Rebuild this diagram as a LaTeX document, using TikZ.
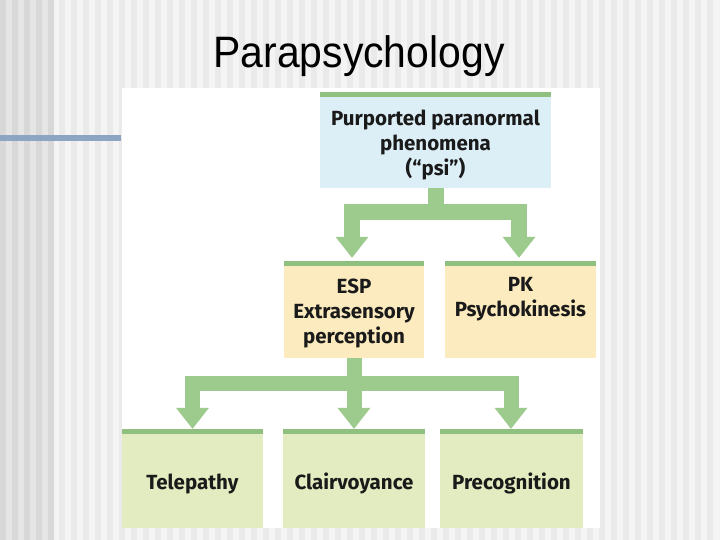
\documentclass[tikz,border=0pt]{standalone}
\usepackage{fontspec}
\setmainfont{Liberation Sans}
\newfontfamily\boxfont{Fira Sans}
\usetikzlibrary{arrows.meta}
\definecolor{psiblue}{HTML}{DCEFF7}
\definecolor{espsand}{HTML}{FCEBBF}
\definecolor{leafgreen}{HTML}{E3ECC0}
\definecolor{bargreen}{HTML}{8FC07F}
\definecolor{flowgreen}{HTML}{9DCB8D}
\definecolor{textdark}{HTML}{1A1A1A}
\definecolor{rulebar}{HTML}{8CA5C2}
\definecolor{stripedark}{HTML}{D8D8D8}
\definecolor{stripemid}{HTML}{E5E5E5}
\definecolor{stripelight}{HTML}{F4F4F4}
\definecolor{stripesoft}{HTML}{EAEAEA}
\newcommand{\toplift}[1]{\rule{0pt}{#1}}

\begin{document}
\begin{tikzpicture}[
    x=1pt, y=-1pt,
    box/.style={rectangle, inner sep=0pt, align=center, text=textdark,
                font=\boxfont\bfseries\fontsize{20.5}{25}\selectfont,
                path picture={\fill[bargreen] (path picture bounding box.north west)
                  rectangle ([yshift=-5pt]path picture bounding box.north east);}},
    psibox/.style={box, fill=psiblue, minimum width=231pt, minimum height=96pt},
    kindbox/.style={box, fill=espsand, minimum height=97pt},
    leafbox/.style={box, fill=leafgreen, minimum height=99pt, text height=25pt, text depth=4pt},
    flow/.style={draw=flowgreen, line width=16pt, line join=miter,
                 -{Triangle[width=33pt, length=21pt, line width=0pt]}}
  ]
  % slide background
  \fill[stripelight] (0,0) rectangle (720,540);
  \foreach \x in {59,71,...,713} \fill[stripesoft] (\x,0) rectangle ++(6,540);
  \fill[stripemid] (0,0) rectangle (53,540);
  \foreach \x in {0,12,...,48} \fill[stripedark] (\x,0) rectangle ++(6,540);
  \useasboundingbox (0,0) rectangle (720,540);
  \fill[rulebar] (0,135) rectangle (121,141);
  \fill[white] (122,88) rectangle (600,528);

  \node[anchor=base, font=\fontsize{44}{48}\selectfont, xscale=0.93] (title) at (359,68) {Parapsychology};

  \node[psibox] (psi) at (435.5,140) {\toplift{26pt}Purported paranormal\\phenomena\\(“psi”)};
  \node[kindbox, minimum width=140pt] (esp) at (354,309.5) {\toplift{22pt}ESP\\Extrasensory\\perception};
  \node[kindbox, minimum width=151pt] (pk) at (520.5,309.5) {\toplift{22pt}PK\\Psychokinesis\\\strut};
  \node[leafbox, minimum width=141pt] (tele) at (192.5,478.5) {Telepathy};
  \node[leafbox, minimum width=142pt] (clair) at (354,478.5) {Clairvoyance};
  \node[leafbox, minimum width=143pt] (precog) at (511.5,478.5) {Precognition};

  \coordinate (split1) at (435.5,212);
  \coordinate (split2) at (354,383);
  \draw[flow, shorten >=3pt] (psi.south) -- (split1) -| ([xshift=-2pt]esp.north);
  \draw[flow, shorten >=3pt] (split1) -| ([xshift=-1.5pt]pk.north);
  \draw[flow, line width=15pt] (esp.south) -- (split2) -| (tele.north);
  \draw[flow, line width=15pt] (split2) -- (clair.north);
  \draw[flow, line width=15pt] (split2) -| ([xshift=-0.5pt]precog.north);
\end{tikzpicture}
\end{document}
